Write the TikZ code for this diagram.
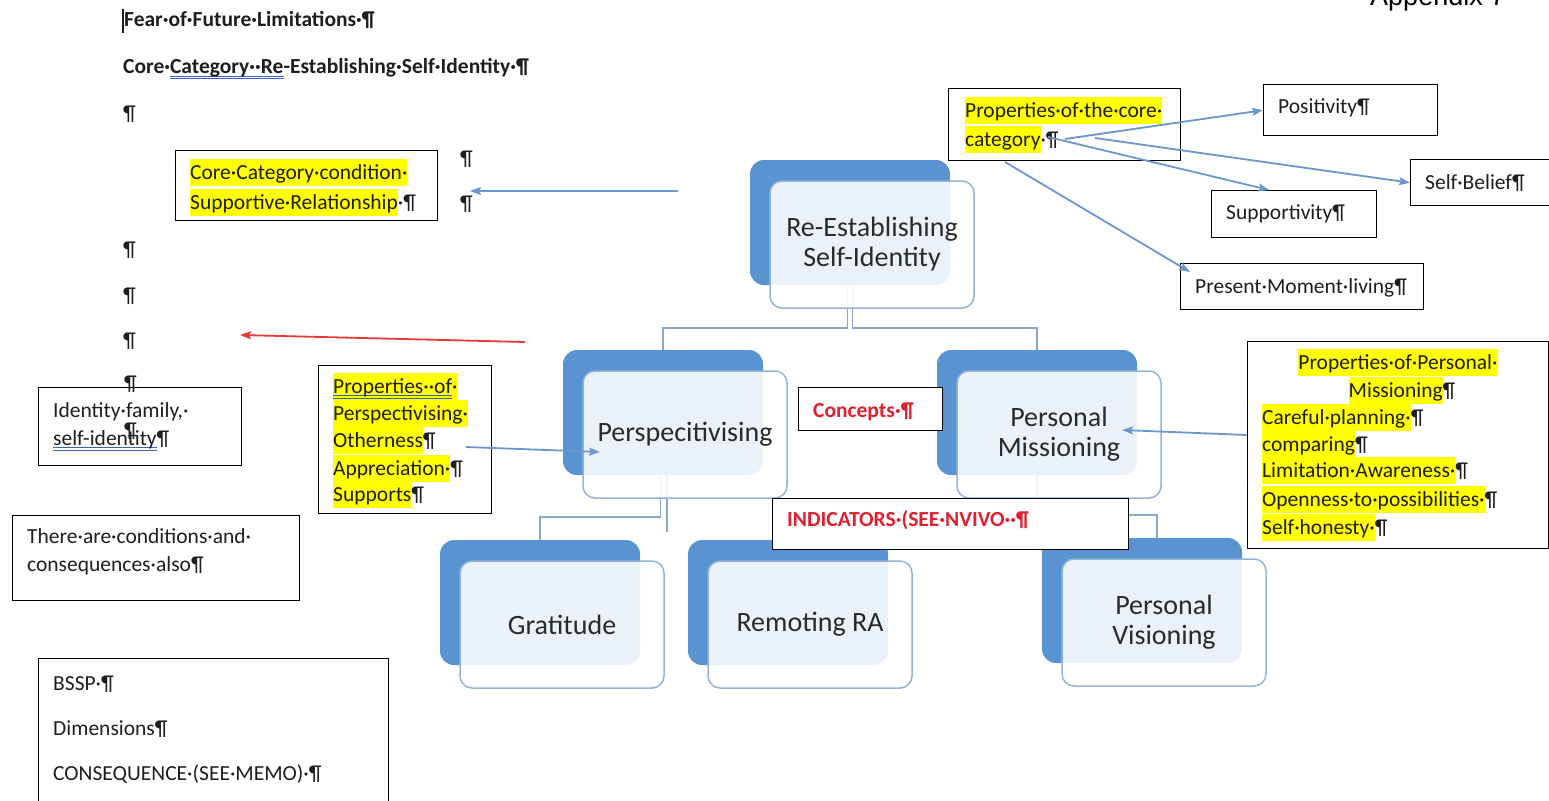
\documentclass[tikz,border=0pt]{standalone}
\usepackage{fontspec}
\setmainfont{Carlito}
\newfontfamily\arialfont{Liberation Sans}
\usetikzlibrary{arrows.meta,calc,backgrounds}

\definecolor{cardblue}{HTML}{5A93D2}
\definecolor{cardedge}{HTML}{94B3D9}
\definecolor{cardink}{HTML}{2A2A2A}
\definecolor{conncol}{HTML}{8AA6C8}
\definecolor{arrcol}{HTML}{6A97CC}
\definecolor{redarr}{HTML}{E53935}
\definecolor{redtxt}{HTML}{E0202E}
\definecolor{hlyellow}{HTML}{FFFF00}
\definecolor{ink}{HTML}{1E1E1E}
\definecolor{ulblue}{HTML}{3A62B8}

% yellow text highlight and blue double underline
\newsavebox\ulbox
\newcommand\hl[1]{{\setlength{\fboxsep}{0pt}\colorbox{hlyellow}{\rule[-7pt]{0pt}{27pt}#1}}}
\newcommand\dul[1]{\sbox\ulbox{#1}\rlap{\textcolor{ulblue}{\rule[-3pt]{\wd\ulbox}{1pt}}}\rlap{\textcolor{ulblue}{\rule[-5.5pt]{\wd\ulbox}{1pt}}}\usebox\ulbox}

\tikzset{
  txt/.style={inner sep=0pt, anchor=base west, text=ink, font=\fontsize{21.5}{26}\selectfont},
  ctxt/.style={txt, anchor=base},
  btxt/.style={txt, font=\fontsize{21.5}{26}\selectfont\bfseries},
  rtxt/.style={btxt, text=redtxt},
  notebox/.style={draw=black, line width=1.4pt, fill=white, inner sep=0pt, anchor=north west},
  cardback/.style={fill=cardblue, rounded corners=14pt, minimum width=200pt, minimum height=125pt, inner sep=0pt},
  cardfront/.style={fill=white, fill opacity=0.88, text opacity=1, draw=cardedge, draw opacity=1,
    line width=1.5pt, rounded corners=12pt, minimum width=204pt, minimum height=127pt, inner sep=0pt,
    align=center, text=cardink, font=\fontsize{28}{30}\selectfont},
  conn/.style={draw=conncol, line width=1.6pt},
  barrow/.style={draw=arrcol, line width=1.8pt, -{Stealth[length=11pt,width=8pt,inset=2pt]}},
  rarrow/.style={draw=redarr, line width=1.8pt, -{Stealth[length=11pt,width=8pt,inset=2pt]}}
}

% a hierarchy card: name, x and y of the back plate, label
\newcommand\card[4]{%
  \node[cardback] (#1B) at (#2+100,#3+62.5) {};
  \node[cardfront] (#1) at (#2+122,#3+84.5) {#4};
}

\begin{document}
\begin{tikzpicture}[x=1pt,y=-1pt]
\useasboundingbox (0,0) rectangle (1549,800);

% ---------- hierarchy cards ----------
\card{re}{750}{160}{Re-Establishing\\Self-Identity}
\card{pe}{563}{350}{Perspecitivising}
\card{pm}{937}{350}{Personal\\Missioning}
\card{gr}{440}{540}{Gratitude}
\card{rm}{688}{540}{Remoting RA}
\card{pv}{1042}{538}{Personal\\Visioning}

% ---------- note boxes ----------
\node[notebox, minimum width=262pt, minimum height=70pt] (ccc) at (175,150) {};
\node[notebox, minimum width=203pt, minimum height=78pt] (idf) at (38,387) {};
\node[notebox, minimum width=287pt, minimum height=85pt] (cond) at (12,515) {};
\node[notebox, minimum width=350pt, minimum height=160pt] (bssp) at (38,658) {};
\node[notebox, minimum width=173pt, minimum height=148pt] (propP) at (318,365) {};
\node[notebox, minimum width=144pt, minimum height=43pt] (concepts) at (798,387) {};
\node[notebox, minimum width=356pt, minimum height=51pt] (indic) at (772,498) {};
\node[notebox, minimum width=232pt, minimum height=72pt] (propC) at (948,88) {};
\node[notebox, minimum width=174pt, minimum height=51pt] (pos) at (1263,84) {};
\node[notebox, minimum width=145pt, minimum height=46pt] (selfb) at (1410,159) {};
\node[notebox, minimum width=165pt, minimum height=47pt] (supp) at (1211,190) {};
\node[notebox, minimum width=243pt, minimum height=46pt] (pml) at (1180,263) {};
\node[notebox, minimum width=301pt, minimum height=207pt] (propM) at (1247,341) {};

% ---------- connectors between cards ----------
\coordinate (rmStub) at (667,532);
\begin{scope}[on background layer]
  \draw[conn] ([xshift=-2.5pt]reB.south) -- ++(0,43) -| (peB.north);
  \draw[conn] ([xshift=2.5pt]reB.south) -- ++(0,43) -| (pmB.north);
  \draw[conn] ([xshift=-2.5pt]peB.south) -- ++(0,42) -| (grB.north);
  \draw[conn] ([xshift=4pt]peB.south) -- (rmStub);
  \draw[conn] (pmB.south) -- ++(0,40) -| ([xshift=15pt]pvB.north);
\end{scope}

% ---------- page text ----------
\draw[line width=1.5pt, ink] (123,9) -- (123,33);
\node[btxt] (l1) at (124,27) {Fear·of·Future·Limitations·¶};
\node[btxt] (l2) at (123,74) {Core·\dul{Category··Re}-Establishing·Self·Identity·¶};
\node[txt] (p1) at (123,120) {¶};
\node[txt] (p2) at (460,165) {¶};
\node[txt] (p3) at (460,210) {¶};
\node[txt] (p4) at (123,256) {¶};
\node[txt] (p5) at (123,302) {¶};
\node[txt] (p6) at (123,347) {¶};
\node[txt] (p7) at (124,390) {¶};

\node[txt] (ccc1) at (190,179) {\hl{Core·Category·condition·}};
\node[txt] (ccc2) at (190,209) {\hl{Supportive·Relationship}·¶};

\node[txt] (idf1) at (53,417) {Identity·family,·};
\node[txt] (idf2) at (53,445) {\dul{self-identity}¶};
\node[txt] (p8) at (124,437) {¶};

\node[txt] (cond1) at (27,543) {There·are·conditions·and·};
\node[txt] (cond2) at (27,571) {consequences·also¶};

\node[txt] (bs1) at (53,690) {BSSP·¶};
\node[txt] (bs2) at (53,735) {Dimensions¶};
\node[txt] (bs3) at (53,780) {CONSEQUENCE·(SEE·MEMO)·¶};

\node[txt] (pp1) at (333,393) {\hl{\dul{Properties··of}·}};
\node[txt] (pp2) at (333,420) {\hl{Perspectivising·}};
\node[txt] (pp3) at (333,447) {\hl{Otherness}¶};
\node[txt] (pp4) at (333,475) {\hl{Appreciation·}¶};
\node[txt] (pp5) at (333,501) {\hl{Supports}¶};

\node[rtxt] (con1) at (813,417) {Concepts·¶};
\node[rtxt] (ind1) at (787,526) {INDICATORS·(SEE·NVIVO··¶};

\node[txt] (pc1) at (965,117) {\hl{Properties·of·the·core·}};
\node[txt] (pc2) at (965,146) {\hl{category}·¶};
\node[txt] (pos1) at (1278,113) {Positivity¶};
\node[txt] (sb1) at (1425,189) {Self·Belief¶};
\node[txt] (sp1) at (1226,219) {Supportivity¶};
\node[txt] (pml1) at (1195,293) {Present·Moment·living¶};

\node[ctxt] (pm1) at (1398,369) {\hl{Properties·of·Personal·}};
\node[ctxt] (pm2) at (1402,397) {\hl{Missioning}¶};
\node[txt] (pm3) at (1262,424) {\hl{Careful·planning·}¶};
\node[txt] (pm4) at (1262,451) {\hl{comparing}¶};
\node[txt] (pm5) at (1262,477) {\hl{Limitation·Awareness·}¶};
\node[txt] (pm6) at (1262,506) {\hl{Openness·to·possibilities·}¶};
\node[txt] (pm7) at (1262,534) {\hl{Self·honesty·}¶};

\node[anchor=base west, inner sep=0pt, font=\arialfont\fontsize{27}{30}\selectfont, text=black] (app) at (1370,6) {Appendix 7};

% ---------- arrows ----------
\coordinate (a1s) at (678,191);
\coordinate (a1e) at (470,191);
\draw[barrow] (a1s) -- (a1e);
\coordinate (r1s) at (525,342);
\coordinate (r1e) at (240,335);
\draw[rarrow] (r1s) -- (r1e);
\coordinate (ppS) at (466,447);
\coordinate (ppE) at (600,452);
\draw[barrow] (ppS) -- (ppE);
\coordinate (pmS) at (1247,435);
\coordinate (pmE) at (1122,430);
\draw[barrow] (pmS) -- (pmE);
\coordinate (c1) at (1065,139);
\coordinate (c2) at (1095,138);
\coordinate (c3) at (1048,137);
\coordinate (c4) at (1005,162);
\draw[barrow] (c1) -- (pos.west);
\draw[barrow] (c2) -- (selfb.west);
\draw[barrow] (c3) -- ([xshift=-25pt]supp.north);
\draw[barrow] (c4) -- ([shift={(10pt,-9pt)}]pml.north west);
\end{tikzpicture}
\end{document}
